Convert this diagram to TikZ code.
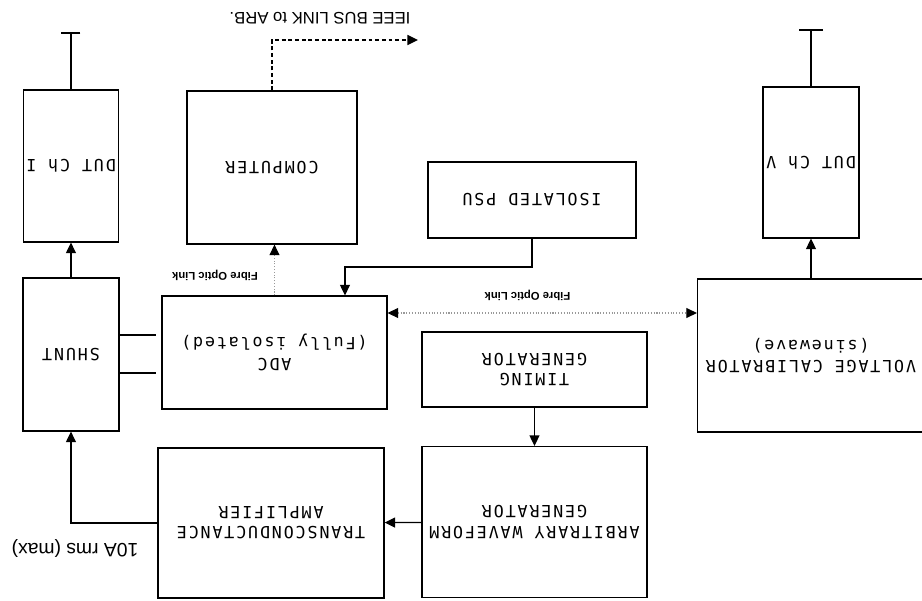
\documentclass[tikz,border=0pt]{standalone}
\usepackage{fontspec}
\usepackage{tikz}
\usetikzlibrary{arrows.meta}
\newfontfamily\boxfont[LetterSpace=11]{DejaVu Sans Mono}
\newfontfamily\labelfont{Liberation Sans}
\tikzset{
  fibretip/.tip={Triangle[length=2.1mm, width=2mm, color=black]},
  sigarrow/.style={-{Triangle[length=2.1mm, width=2mm]}, line width=0.75pt},
  buslink/.style={sigarrow, dash pattern=on 2.2pt off 1.6pt},
  fibrelink/.style={line width=0.6pt, black!40, densely dotted},
  block/.style={draw, line width=0.75pt, inner sep=0pt, align=center, font=\boxfont\fontsize{9.5}{11.5}\selectfont},
  wire/.style={line width=0.75pt},
  linklabel/.style={font=\labelfont\bfseries\fontsize{6.4}{7}\selectfont},
  plainlabel/.style={font=\labelfont\fontsize{#1}{13}\selectfont}
}
\begin{document}
\begin{tikzpicture}[x=0.02cm, y=0.02cm, rotate=180, transform shape]
  \useasboundingbox (0,0) rectangle (922,601);
  % blocks
  \node[block, minimum width=1.9cm, minimum height=3.04cm] (dutI) at (851,166) {DUT Ch I};
  \node[block, minimum width=3.4cm, minimum height=3.06cm] (comp) at (650,167.5) {COMPUTER};
  \node[block, minimum width=4.16cm, minimum height=1.52cm] (psu) at (390,200) {ISOLATED PSU};
  \node[block, minimum width=1.92cm, minimum height=3.02cm] (dutV) at (111,162.5) {DUT Ch V};
  \node[block, minimum width=4.54cm, minimum height=3.06cm] (vcal) at (111,355.5) {VOLTAGE CALIBRATOR\\(sinewave)};
  \node[block, minimum width=4.5cm, minimum height=2.26cm] (adc) at (647.5,352.5) {ADC\\(Fully isolated)};
  \node[block, minimum width=1.92cm, minimum height=3.06cm] (shunt) at (851,354.5) {SHUNT};
  \node[block, minimum width=4.52cm, minimum height=3.0cm] (trans) at (651,523) {TRANSCONDUCTANCE\\AMPLIFIER};
  \node[block, minimum width=4.5cm, minimum height=3.02cm] (arb) at (387.5,522) {ARBITRARY WAVEFORM\\GENERATOR};
  \node[block, minimum width=4.5cm, minimum height=1.5cm] (timing) at (387.5,369.5) {TIMING\\GENERATOR};
  % labels
  \node[plainlabel=9.5] (ieeelabel) at (602,18) {IEEE BUS LINK to ARB.};
  \node[linklabel] (fibreA) at (707,275) {Fibre Optic Link};
  \node[linklabel] (fibreB) at (394.5,295) {Fibre Optic Link};
  \node[plainlabel=11] (ampslabel) at (847,548) {10A rms (max)};
  % connectors
  \coordinate (endI) at (851,33);
  \coordinate (endV) at (111,30);
  \draw[wire] (dutI.south) -- (endI);
  \draw[wire] (endI) +(-9.5,0) -- +(9.5,0);
  \draw[wire] (dutV.south) -- (endV);
  \draw[wire] (endV) +(-12,0) -- +(12,0);
  \draw[sigarrow] (shunt) -- (dutI);
  \draw[sigarrow] (vcal) -- (dutV);
  \coordinate (ieee) at (504,40);
  \draw[buslink] (comp.south) |- (ieee);
  \draw[fibrelink, -{fibretip}] (adc.south) -- (adc.south |- comp.north);
  \coordinate (psubend) at (577,267);
  \draw[sigarrow] (psu.north) |- (psubend) -- (psubend |- adc.south);
  \coordinate (fibremid) at (400,313);
  \draw[fibrelink, {fibretip}-{fibretip}] (fibremid -| adc.west) -- (fibremid -| vcal.east);
  \foreach \yy in {335,373}
    \draw[wire, shorten >=2.8pt] (shunt.west |- 0,\yy) -- (adc.east |- 0,\yy);
  \draw[sigarrow] (timing) -- (arb);
  \draw[sigarrow] (arb) -- (trans);
  \draw[sigarrow] (trans.east) -| (shunt.north);
\end{tikzpicture}
\end{document}
